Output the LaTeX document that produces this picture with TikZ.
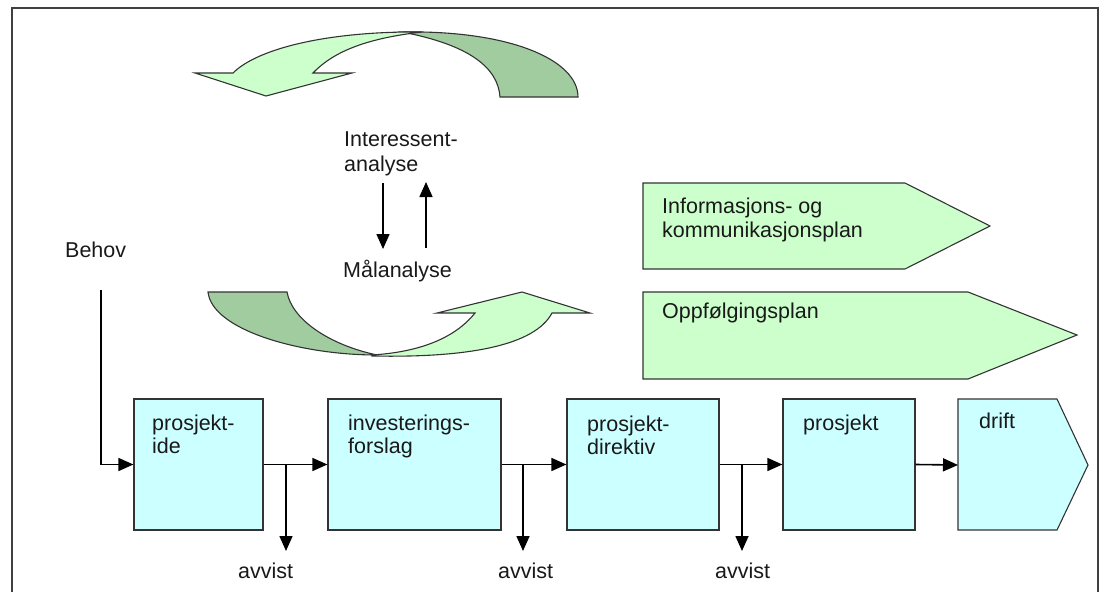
\documentclass[tikz,border=0pt]{standalone}
\usepackage{fontspec}
\setmainfont{Liberation Sans}
\usetikzlibrary{arrows.meta}
\definecolor{boxcyan}{RGB}{204,255,255}
\definecolor{lightgreen}{RGB}{204,255,204}
\definecolor{darkgreen}{RGB}{160,204,160}
\begin{document}
\begin{tikzpicture}[x=1pt,y=-1pt,
  txt/.style={anchor=base west, inner sep=0pt, font=\fontsize{21.5}{24}\selectfont, text=black!90},
  stagebox/.style={draw=black!80, line width=1.2pt, fill=boxcyan, minimum width=#1, minimum height=131pt, inner sep=0pt},
  shapeline/.style={draw=black!80, line width=1.1pt},
  arr/.style={-{Triangle[length=15pt,width=13pt]}, line width=1.6pt, black},
  plain/.style={line width=1.6pt, black}]
\useasboundingbox (0,0) rectangle (1101,592);
% frame
\draw[line width=2.2pt, black!75] (12,592) -- (12,8) -- (1098,8) -- (1098,592);

% top curved arrow
\draw[shapeline, fill=darkgreen] (402,32) .. controls (510,30) and (578,60) .. (578,97) -- (500,97) .. controls (498,68) and (470,45) .. (402,32) -- cycle;
\draw[shapeline, fill=lightgreen] (422,32) .. controls (330,31) and (258,48) .. (233,73) -- (195,73) -- (266,96) -- (352,73) -- (313,73) .. controls (335,50) and (370,38) .. (422,32) -- cycle;

% bottom curved arrow
\draw[shapeline, fill=darkgreen] (208,292) -- (287,292) .. controls (292,320) and (330,345) .. (377,355) .. controls (300,355) and (212,330) .. (208,292) -- cycle;
\draw[shapeline, fill=lightgreen] (372,356) .. controls (470,358) and (535,345) .. (552,313) -- (590,313) -- (522,292) -- (437,313) -- (475,313) .. controls (455,338) and (420,352) .. (372,355) -- cycle;

% plan arrows
\draw[shapeline, fill=lightgreen] (643,183) -- (905,183) -- (990,226) -- (905,269) -- (643,269) -- cycle;
\draw[shapeline, fill=lightgreen] (643,292) -- (968,292) -- (1077,335) -- (968,379) -- (643,379) -- cycle;
\node[txt] (info1) at (662,213) {Informasjons- og};
\node[txt] (info2) at (662,237) {kommunikasjonsplan};
\node[txt] (oppf) at (662,318) {Oppfølgingsplan};

% analysis texts
\node[txt] (int1) at (344,146) {Interessent-};
\node[txt] (int2) at (344,171) {analyse};
\node[txt] (maal) at (343,277) {Målanalyse};
\coordinate (dtop) at (383,183);
\coordinate (dbot) at (383,249);
\coordinate (utop) at (426,182);
\coordinate (ubot) at (426,248);
\draw[arr] (dtop) -- (dbot);
\draw[arr] (ubot) -- (utop);

% stage boxes
\node[stagebox=129pt] (ide) at (198.5,464.5) {};
\node[stagebox=173pt] (inv) at (414.5,464.5) {};
\node[stagebox=152pt] (dir) at (643,464.5) {};
\node[stagebox=132pt] (prj) at (849,464.5) {};
\draw[shapeline, fill=boxcyan] (958,399) -- (1057,399) -- (1088,465) -- (1057,530) -- (958,530) -- cycle;
\coordinate (drift) at (958,465);

\node[txt] (t1a) at (152,430) {prosjekt-};
\node[txt] (t1b) at (152,453) {ide};
\node[txt] (t2a) at (348,430) {investerings-};
\node[txt] (t2b) at (348,453) {forslag};
\node[txt] (t3a) at (587,431) {prosjekt-};
\node[txt] (t3b) at (587,454) {direktiv};
\node[txt] (t4) at (803,430) {prosjekt};
\node[txt] (t5) at (979,428) {drift};

% Behov
\node[txt] (behov) at (65,257) {Behov};
\coordinate (behovstart) at (101,290);
\draw[arr] (behovstart) |- (ide.west);

% main flow
\draw[arr] (ide.east) -- (inv.west);
\draw[arr] (inv.east) -- (dir.west);
\draw[arr] (dir.east) -- (prj.west);
\draw[arr] (prj.east) -- (drift);

% rejections
\coordinate (b1) at (286,465);
\coordinate (b1e) at (286,551);
\coordinate (b2) at (523,465);
\coordinate (b2e) at (523,551);
\coordinate (b3) at (742,465);
\coordinate (b3e) at (742,551);
\draw[arr] (b1) -- (b1e);
\draw[arr] (b2) -- (b2e);
\draw[arr] (b3) -- (b3e);
\node[txt] (av1) at (238,578) {avvist};
\node[txt] (av2) at (498,578) {avvist};
\node[txt] (av3) at (715,578) {avvist};
\end{tikzpicture}
\end{document}
